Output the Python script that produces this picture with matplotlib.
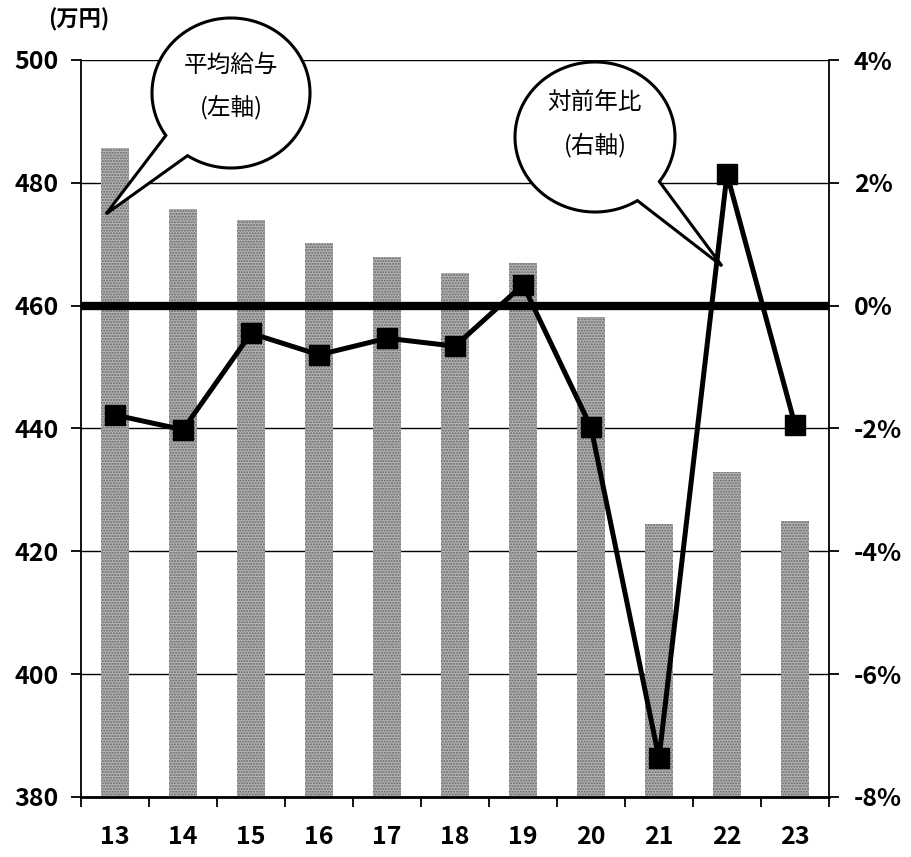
import numpy as np
import matplotlib
matplotlib.use("Agg")
import matplotlib.pyplot as plt
from matplotlib.patches import Polygon
from matplotlib.ticker import FixedLocator

plt.rcParams["font.family"] = ["Noto Sans CJK JP", "DejaVu Sans"]
plt.rcParams["axes.unicode_minus"] = False
plt.rcParams["hatch.linewidth"] = 1.0

# data
years = ["13", "14", "15", "16", "17", "18", "19", "20", "21", "22", "23"]
salary = [485.6, 475.7, 473.9, 470.2, 468.0, 465.4, 466.9, 458.1, 424.5, 432.9, 425.0]
yoy = [-1.78, -2.02, -0.45, -0.80, -0.53, -0.66, 0.34, -1.98, -7.37, 2.14, -1.94]
left_ticks = [380, 400, 420, 440, 460, 480, 500]
right_ticks = [-8, -6, -4, -2, 0, 2, 4]

W, H = 912, 857
fig = plt.figure(figsize=(W / 100, H / 100), dpi=100)
L, R, T, B = 81, 829, 60, 797
ax = fig.add_axes([L / W, 1 - B / H, (R - L) / W, (B - T) / H])
ax2 = ax.twinx()

x = np.arange(len(years))
ax.bar(x, salary, width=0.4, bottom=0, color="#b4b4b4", edgecolor="#666666",
       hatch="......", linewidth=0, zorder=2)
ax.set_ylim(380, 500)
ax.set_xlim(-0.5, len(years) - 0.5)
ax.set_yticks(left_ticks)
ax.set_yticklabels([str(v) for v in left_ticks], fontweight="bold")
for v in left_ticks:
    if v != 460:
        ax.axhline(v, color="black", lw=1.0, zorder=1)

ax.set_xticks(x)
ax.set_xticklabels(years, fontweight="bold")
ax.xaxis.set_minor_locator(FixedLocator(np.arange(-0.5, len(years), 1.0)))
ax.tick_params(axis="x", which="major", length=0, pad=20, labelsize=18)
ax.tick_params(axis="x", which="minor", length=7, width=1.3, direction="out")
ax.tick_params(axis="y", length=7, width=1.3, pad=9, labelsize=18)

for s in ("top", "right"):
    ax.spines[s].set_visible(False)
ax.spines["left"].set_linewidth(1.3)
ax.spines["bottom"].set_linewidth(2.0)

# right axis: year-on-year change
ax2.axhline(0, color="black", lw=6, zorder=1)
ax2.plot(x, yoy, color="black", lw=3.6, marker="s", markersize=14,
         markerfacecolor="black", zorder=3)
ax2.set_ylim(-8, 4)
ax2.set_yticks(right_ticks)
ax2.set_yticklabels([f"{v}%" for v in right_ticks], fontweight="bold")
ax2.tick_params(axis="y", length=7, width=1.3, pad=11, labelsize=18)
for s in ("top", "left", "bottom"):
    ax2.spines[s].set_visible(False)
ax2.spines["right"].set_linewidth(1.3)

fig.text(79 / W, 1 - 20 / H, "(万円)", fontsize=16, ha="center", va="center",
         fontweight="bold")


def bubble(cx, cy, a, b, base1, base2, tip, lines, text_y):
    t1 = np.arctan2((base1[1] - cy) / b, (base1[0] - cx) / a)
    t2 = np.arctan2((base2[1] - cy) / b, (base2[0] - cx) / a)
    lo, hi = min(t1, t2), max(t1, t2)
    # long arc from hi round to lo, leaving the gap for the tail
    ts = np.linspace(hi, lo + 2 * np.pi, 240)
    pts = [(cx + a * np.cos(t), cy + b * np.sin(t)) for t in ts]
    pts.append(tip)
    pts = [(px / W, 1 - py / H) for px, py in pts]
    fig.add_artist(Polygon(pts, closed=True, facecolor="white",
                           edgecolor="black", lw=2.2, zorder=10,
                           transform=fig.transFigure, joinstyle="miter"))
    for txt, ty in zip(lines, text_y):
        fig.text(cx / W, 1 - ty / H, txt, fontsize=17, ha="center",
                 va="center", zorder=11)


bubble(231, 93, 79, 75, (165, 136), (188, 155), (106, 214),
       ["平均給与", "(左軸)"], [65, 107])
bubble(595, 137, 80, 75, (660, 182), (637, 200), (722, 266),
       ["対前年比", "(右軸)"], [102, 145])

fig.savefig("out.png", dpi=100, facecolor="white")
